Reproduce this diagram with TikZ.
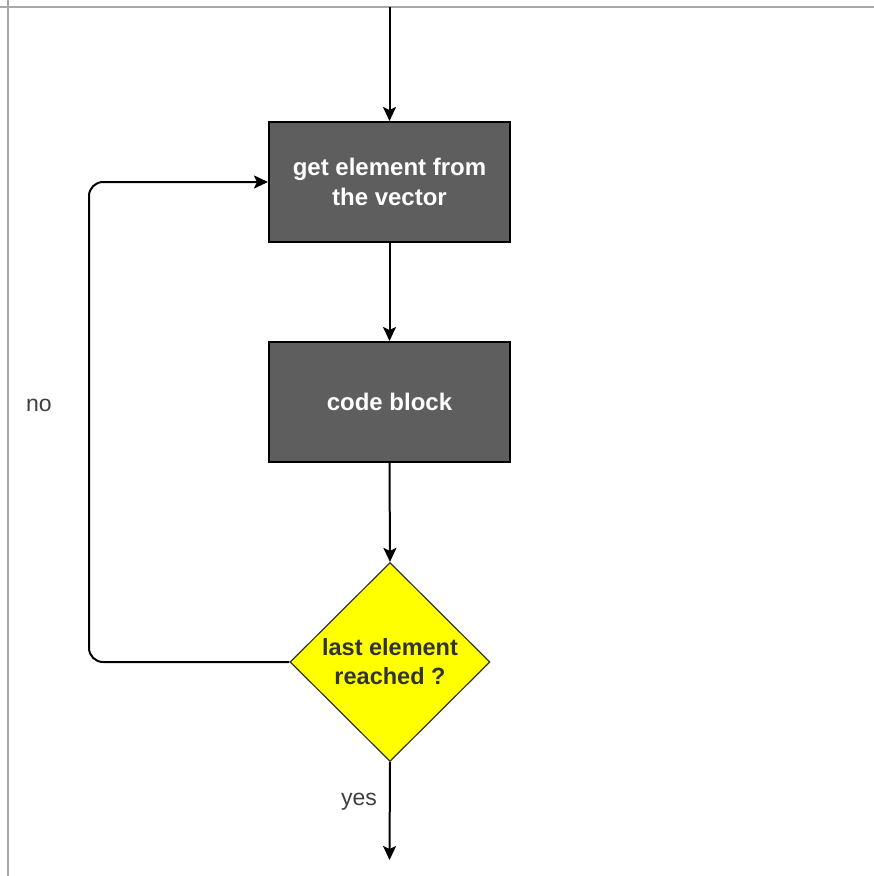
\documentclass[tikz,border=0pt]{standalone}
\usepackage{fontspec}
\setmainfont{Liberation Sans}
\usetikzlibrary{shapes.geometric,arrows.meta}
\definecolor{boxgray}{HTML}{5E5E5E}
\definecolor{framegray}{HTML}{A8A8A8}
\definecolor{decisionyellow}{HTML}{FFFF00}
\definecolor{darktext}{HTML}{333333}
\tikzset{
  flow/.style={line width=2pt, -{Stealth[length=14pt,width=13pt,inset=3pt]}},
  procbox/.style={draw=black, line width=2pt, fill=boxgray, minimum width=241pt,
    minimum height=120pt, inner sep=0pt, text=white, align=center,
    font=\fontsize{24}{30}\selectfont\bfseries},
  decision/.style={diamond, draw=black!80, line width=1.2pt, fill=decisionyellow,
    minimum width=200pt, minimum height=199pt, inner sep=0pt, aspect=1,
    text=darktext, align=center, font=\fontsize{23.5}{29}\selectfont\bfseries},
  edgelabel/.style={text=black!75, font=\fontsize{23}{26}\selectfont}
}
\begin{document}
\begin{tikzpicture}[x=1pt,y=-1pt]
  \useasboundingbox (0,0) rectangle (874,876);
  % frame lines along the top and left edges
  \draw[framegray, line width=1.5pt] (0,7) -- (874,7);
  \draw[framegray, line width=1.5pt] (8,0) -- (8,876);

  \node[procbox] (get) at (389.5,182) {get element from\\the vector};
  \node[procbox] (code) at (389.5,402) {code block};
  \node[decision] (last) at (390,662) {last element\\reached ?};

  \coordinate (start) at (389.5,7);
  \coordinate (finish) at (389.5,860);
  \coordinate (loopbot) at (89,662);
  \coordinate (looptop) at (89,182);

  \draw[flow] (start) -- (get.north);
  \draw[flow] (get.south) -- (code.north);
  \draw[flow] (code.south) -- (last.north);
  \draw[flow, rounded corners=14pt] (last.west) -- (loopbot) -- (looptop) -- (get.west);
  \draw[flow] (last.south) -- (finish);

  \node[edgelabel] (nolabel) at (39,405) {no};
  \node[edgelabel] (yeslabel) at (359,802) {yes};
\end{tikzpicture}
\end{document}
